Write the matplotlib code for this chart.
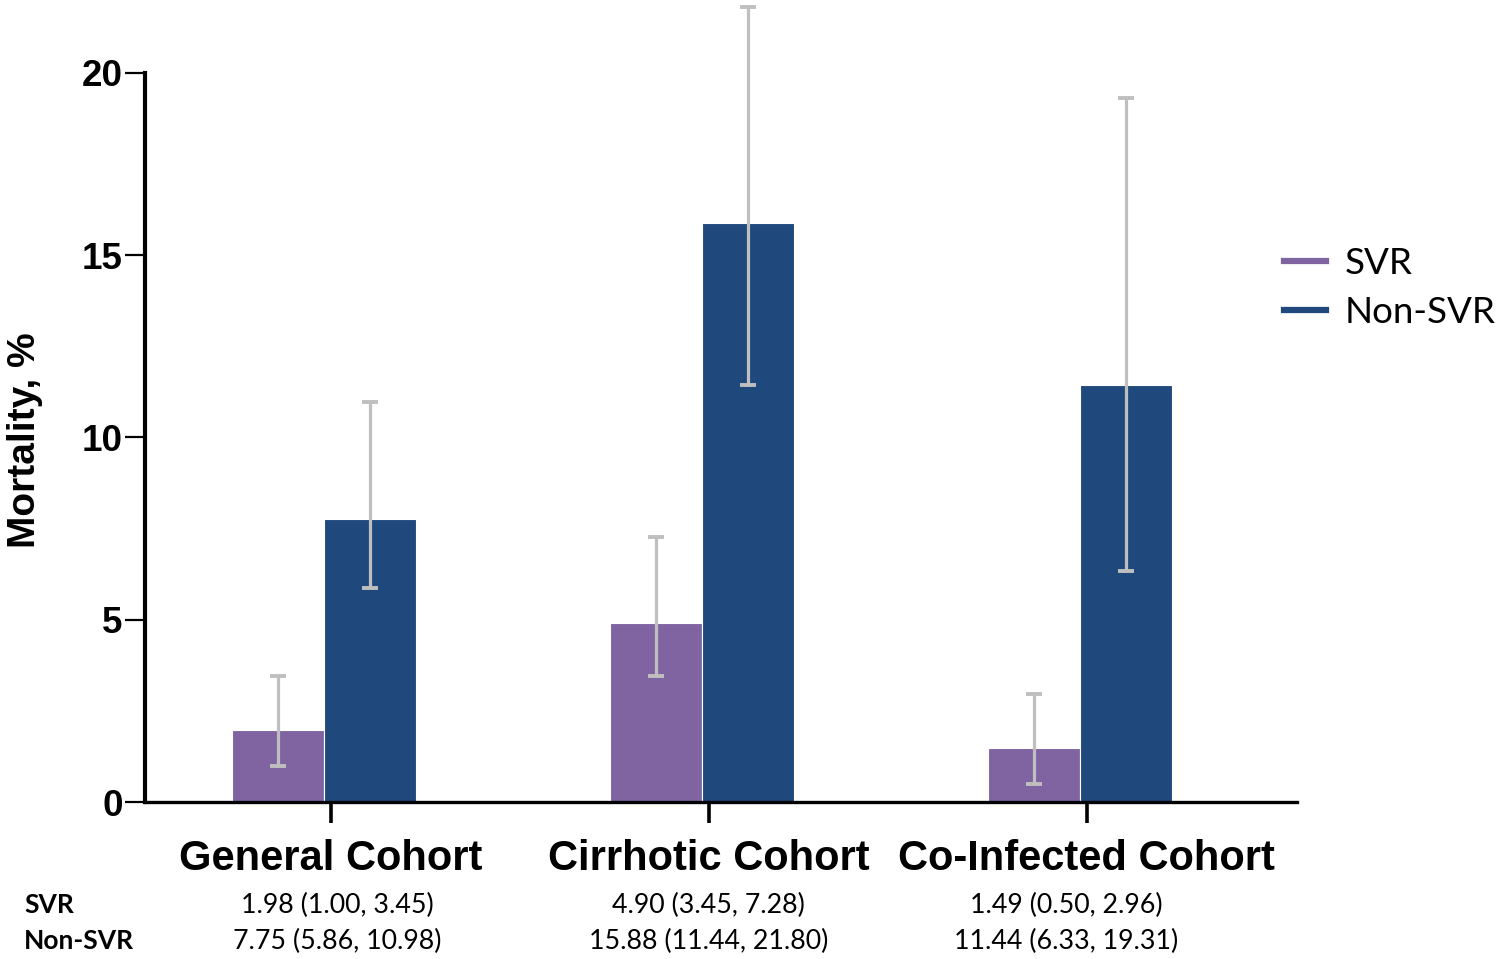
import matplotlib
matplotlib.use("Agg")
import matplotlib.pyplot as plt
from matplotlib.lines import Line2D
from matplotlib.transforms import blended_transform_factory
import numpy as np

# Mortality estimates (%) with 95% intervals
cohorts = ["General Cohort", "Cirrhotic Cohort", "Co-Infected Cohort"]
svr = [1.98, 4.90, 1.49]
svr_lo = [1.00, 3.45, 0.50]
svr_hi = [3.45, 7.28, 2.96]
non_svr = [7.75, 15.88, 11.44]
non_svr_lo = [5.86, 11.44, 6.33]
non_svr_hi = [10.98, 21.80, 19.31]
series_names = ["SVR", "Non-SVR"]
yticks = [0, 5, 10, 15, 20]

SVR_COLOR = "#8064A2"
NON_COLOR = "#1F497D"
ERR_COLOR = "#BFBFBF"

W, H = 1501, 959
fig = plt.figure(figsize=(W / 100, H / 100), dpi=100)
ax = fig.add_axes([145 / W, 157 / H, 1152 / W, 802 / H])

x = np.arange(len(cohorts))
width = 0.243
shift = -0.018

def draw_series(vals, lo, hi, offset, color):
    vals = np.asarray(vals)
    err = np.vstack([vals - np.asarray(lo), np.asarray(hi) - vals])
    ax.bar(x + offset, vals, width, color=color, edgecolor="white",
           linewidth=0.8, zorder=2)
    ax.errorbar(x + offset, vals, yerr=err, fmt="none", ecolor=ERR_COLOR,
                elinewidth=2.3, capsize=5.8, capthick=2.8, zorder=3)

draw_series(svr, svr_lo, svr_hi, shift - width / 2, SVR_COLOR)
draw_series(non_svr, non_svr_lo, non_svr_hi, shift + width / 2, NON_COLOR)

ax.set_xlim(-0.492, 2.556)
ax.set_ylim(0, 22)

for side in ("top", "right"):
    ax.spines[side].set_visible(False)
ax.spines["left"].set_bounds(0, 20)
ax.spines["left"].set_linewidth(3.0)
ax.spines["bottom"].set_linewidth(2.4)

ax.set_yticks(yticks)
ax.set_yticklabels([str(t) for t in yticks], fontfamily="Liberation Sans",
                   fontweight="bold", fontsize=26.5)
ax.tick_params(axis="y", length=14.5, width=1.6, pad=1.5)

ax.set_xticks(x)
ax.set_xticklabels(cohorts, fontfamily="Liberation Sans",
                   fontweight="bold", fontsize=30)
ax.tick_params(axis="x", length=15, width=2.6, pad=12)

fig.text(25 / W, (H - 440) / H, "Mortality, %", rotation=90,
         ha="center", va="center", fontfamily="Liberation Sans",
         fontweight="bold", fontsize=28)

handles = [Line2D([], [], color=SVR_COLOR, lw=4.5),
           Line2D([], [], color=NON_COLOR, lw=4.5)]
fig.legend(handles, series_names, loc="center left",
           bbox_to_anchor=(1284 / W, (H - 288) / H), frameon=False,
           prop={"family": "Lato", "size": 26.5}, handlelength=1.15,
           handletextpad=0.5, labelspacing=0.42, borderpad=0,
           borderaxespad=0)

# Table of estimates under each cohort
trans = blended_transform_factory(ax.transData, fig.transFigure)
label_x = [0.016, 0.0, -0.054]
rows = [(series_names[0], svr, svr_lo, svr_hi, (H - 905) / H),
        (series_names[1], non_svr, non_svr_lo, non_svr_hi, (H - 941) / H)]
for name, vals, lo, hi, yrow in rows:
    fig.text(24 / W, yrow, name, ha="left", va="center",
             fontfamily="Lato", fontweight="bold", fontsize=19)
    for i in range(len(cohorts)):
        fig.text(x[i] + label_x[i], yrow,
                 f"{vals[i]:.2f} ({lo[i]:.2f}, {hi[i]:.2f})",
                 transform=trans, ha="center", va="center",
                 fontfamily="Lato", fontsize=19.3)

fig.savefig("out.png", dpi=100)
